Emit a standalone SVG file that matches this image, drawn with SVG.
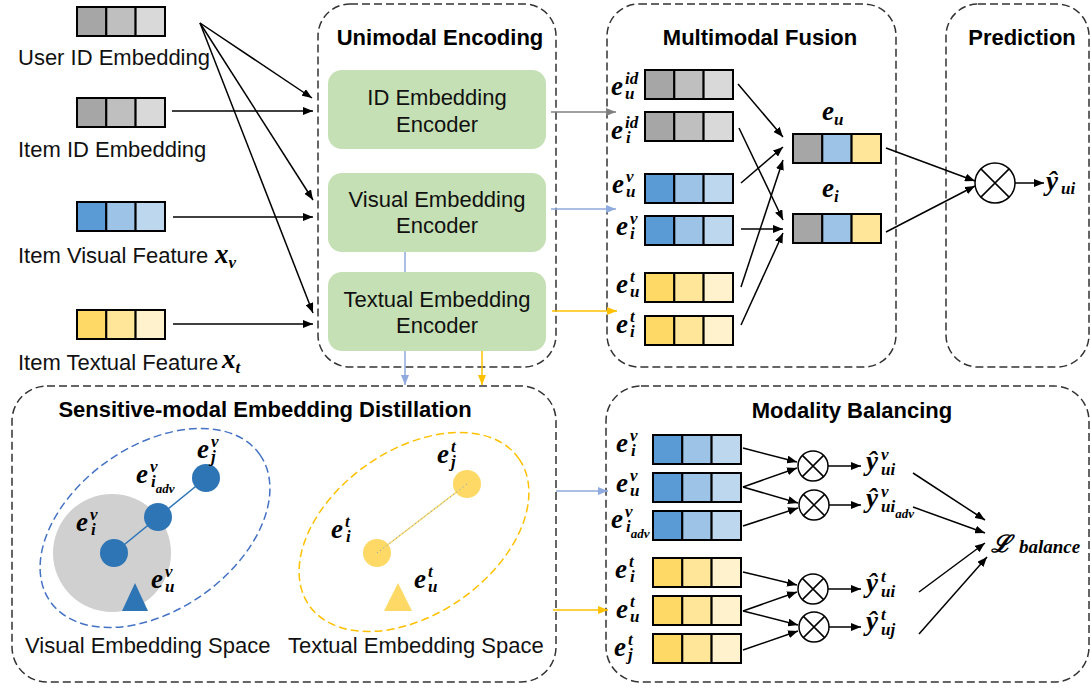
<svg xmlns="http://www.w3.org/2000/svg" xmlns:xlink="http://www.w3.org/1999/xlink" width="1091" height="688" viewBox="0 0 1091 688">
<style>
.box{fill:none;stroke:#333;stroke-width:1.5;stroke-dasharray:8 4}
.enc{fill:#c5e0b4}
.t{font-family:"Liberation Sans",Arial,sans-serif;font-size:22px;fill:#111}
.tb{font-family:"Liberation Sans",Arial,sans-serif;font-size:22px;font-weight:bold;fill:#000;text-anchor:middle}
.tc{font-family:"Liberation Sans",Arial,sans-serif;font-size:22px;fill:#111;text-anchor:middle}
.m{font-family:"Liberation Serif","DejaVu Serif",serif;font-weight:bold;font-style:italic;font-size:27px;fill:#000}
.s{font-size:17px}
.ss{font-size:13px}
.c{stroke:#000;stroke-width:2}
.k{stroke:#000;stroke-width:1.5;fill:none}
.ot{fill:#fff;stroke:#000;stroke-width:1.5}
.g1{fill:#a6a6a6}.g2{fill:#bfbfbf}.g3{fill:#d9d9d9}
.b1{fill:#5b9bd5}.b2{fill:#9dc3e6}.b3{fill:#bdd7ee}
.y1{fill:#ffd966}.y2{fill:#ffe699}.y3{fill:#fff2cc}
</style>
<defs>
<marker id="ak" markerWidth="10" markerHeight="8" refX="10" refY="4" orient="auto" markerUnits="userSpaceOnUse"><path d="M0,0 L10,4 L0,8 z" fill="#000"/></marker>
<marker id="ag" markerWidth="10" markerHeight="8" refX="10" refY="4" orient="auto" markerUnits="userSpaceOnUse"><path d="M0,0 L10,4 L0,8 z" fill="#808080"/></marker>
<marker id="ab" markerWidth="10" markerHeight="8" refX="10" refY="4" orient="auto" markerUnits="userSpaceOnUse"><path d="M0,0 L10,4 L0,8 z" fill="#8faadc"/></marker>
<marker id="ay" markerWidth="10" markerHeight="8" refX="10" refY="4" orient="auto" markerUnits="userSpaceOnUse"><path d="M0,0 L10,4 L0,8 z" fill="#ffc000"/></marker>
<g id="vg"><rect class="g1 c" x="0" y="0" width="29.3" height="29"/><rect class="g2 c" x="29.3" y="0" width="29.3" height="29"/><rect class="g3 c" x="58.6" y="0" width="29.4" height="29"/></g>
<g id="vb"><rect class="b1 c" x="0" y="0" width="29.3" height="29"/><rect class="b2 c" x="29.3" y="0" width="29.3" height="29"/><rect class="b3 c" x="58.6" y="0" width="29.4" height="29"/></g>
<g id="vy"><rect class="y1 c" x="0" y="0" width="29.3" height="29"/><rect class="y2 c" x="29.3" y="0" width="29.3" height="29"/><rect class="y3 c" x="58.6" y="0" width="29.4" height="29"/></g>
<g id="vf"><rect class="g1 c" x="0" y="0" width="29.3" height="29"/><rect class="b2 c" x="29.3" y="0" width="29.3" height="29"/><rect class="y2 c" x="58.6" y="0" width="29.4" height="29"/></g>
<g id="otl"><circle class="ot" cx="0" cy="0" r="20"/><path class="k" d="M-14.1,-14.1 L14.1,14.1 M-14.1,14.1 L14.1,-14.1"/></g>
<g id="ots"><circle class="ot" cx="0" cy="0" r="15"/><path class="k" d="M-10.6,-10.6 L10.6,10.6 M-10.6,10.6 L10.6,-10.6"/></g>
</defs>
<rect width="1091" height="688" fill="#fff"/>

<!-- container boxes -->
<g id="unimodal">
<rect class="box" x="318" y="4" width="238" height="363" rx="32"/>
<text class="tb" x="440" y="45">Unimodal Encoding</text>
</g>
<g id="fusion">
<rect class="box" x="607" y="4" width="289" height="363" rx="32"/>
<text class="tb" x="760" y="45">Multimodal Fusion</text>
</g>
<g id="prediction">
<rect class="box" x="946" y="4" width="143" height="363" rx="32"/>
<text class="tb" x="1022" y="45">Prediction</text>
</g>
<g id="sed">
<rect class="box" x="12" y="386" width="544" height="296" rx="35"/>
<text class="tb" x="265" y="417">Sensitive-modal Embedding Distillation</text>
</g>
<g id="balancing">
<rect class="box" x="606" y="386" width="483" height="296" rx="35"/>
<text class="tb" x="852" y="418">Modality Balancing</text>
</g>

<!-- connectors -->
<g id="connectors">
<line x1="200" y1="23" x2="312" y2="98" class="k" marker-end="url(#ak)"/>
<line x1="200" y1="23" x2="313" y2="200" class="k" marker-end="url(#ak)"/>
<line x1="200" y1="23" x2="313" y2="313" class="k" marker-end="url(#ak)"/>
<line x1="172" y1="111" x2="313" y2="111" class="k" marker-end="url(#ak)"/>
<line x1="173" y1="217" x2="313" y2="217" class="k" marker-end="url(#ak)"/>
<line x1="173" y1="324" x2="313" y2="324" class="k" marker-end="url(#ak)"/>
<line x1="551" y1="112" x2="616" y2="112" stroke="#808080" stroke-width="1.5" marker-end="url(#ag)"/>
<line x1="551" y1="209" x2="616" y2="209" stroke="#8faadc" stroke-width="1.5" marker-end="url(#ab)"/>
<line x1="552" y1="311" x2="617" y2="311" stroke="#ffc000" stroke-width="1.5" marker-end="url(#ay)"/>
<line x1="405" y1="252" x2="405" y2="385" stroke="#8faadc" stroke-width="1.5" marker-end="url(#ab)"/>
<line x1="482" y1="351" x2="482" y2="385" stroke="#ffc000" stroke-width="1.5" marker-end="url(#ay)"/>
<line x1="556" y1="491" x2="608" y2="491" stroke="#8faadc" stroke-width="1.5" marker-end="url(#ab)"/>
<line x1="553" y1="610" x2="608" y2="610" stroke="#ffc000" stroke-width="1.5" marker-end="url(#ay)"/>
<line x1="738" y1="84" x2="783" y2="137" class="k" marker-end="url(#ak)"/>
<line x1="739" y1="128" x2="783" y2="220" class="k" marker-end="url(#ak)"/>
<line x1="741" y1="183" x2="783" y2="147" class="k" marker-end="url(#ak)"/>
<line x1="741" y1="229" x2="783" y2="229" class="k" marker-end="url(#ak)"/>
<line x1="741" y1="287" x2="783" y2="160" class="k" marker-end="url(#ak)"/>
<line x1="741" y1="325" x2="783" y2="233" class="k" marker-end="url(#ak)"/>
<line x1="886" y1="148" x2="975" y2="181" class="k" marker-end="url(#ak)"/>
<line x1="886" y1="232" x2="975" y2="186" class="k" marker-end="url(#ak)"/>
<line x1="1015" y1="183" x2="1044" y2="183" class="k" marker-end="url(#ak)"/>
<line x1="743" y1="448" x2="797" y2="462" class="k" marker-end="url(#ak)"/>
<line x1="743" y1="487" x2="797" y2="468" class="k" marker-end="url(#ak)"/>
<line x1="743" y1="487" x2="798" y2="503" class="k" marker-end="url(#ak)"/>
<line x1="743" y1="526" x2="798" y2="508" class="k" marker-end="url(#ak)"/>
<line x1="743" y1="572" x2="797" y2="585" class="k" marker-end="url(#ak)"/>
<line x1="743" y1="611" x2="797" y2="592" class="k" marker-end="url(#ak)"/>
<line x1="743" y1="611" x2="798" y2="625" class="k" marker-end="url(#ak)"/>
<line x1="743" y1="650" x2="798" y2="631" class="k" marker-end="url(#ak)"/>
<line x1="828" y1="466" x2="861" y2="466" class="k" marker-end="url(#ak)"/>
<line x1="829" y1="505" x2="861" y2="505" class="k" marker-end="url(#ak)"/>
<line x1="828" y1="589" x2="861" y2="589" class="k" marker-end="url(#ak)"/>
<line x1="829" y1="627" x2="861" y2="627" class="k" marker-end="url(#ak)"/>
<line x1="913" y1="473" x2="985" y2="520" class="k" marker-end="url(#ak)"/>
<line x1="913" y1="507" x2="985" y2="533" class="k" marker-end="url(#ak)"/>
<line x1="919" y1="592" x2="985" y2="543" class="k" marker-end="url(#ak)"/>
<line x1="919" y1="634" x2="987" y2="557" class="k" marker-end="url(#ak)"/>
</g>

<!-- inputs -->
<g id="user-id">
<use href="#vg" x="77" y="7"/>
<text class="t" x="18" y="65">User ID Embedding</text>
</g>
<g id="item-id">
<use href="#vg" x="77" y="98"/>
<text class="t" x="18" y="157">Item ID Embedding</text>
</g>
<g id="item-visual">
<use href="#vb" x="77" y="202"/>
<text class="t" x="18" y="263">Item Visual Feature</text>
<text class="m" x="215" y="263">x<tspan class="s" dy="5">v</tspan></text>
</g>
<g id="item-textual">
<use href="#vy" x="77" y="310"/>
<text class="t" x="18" y="370">Item Textual Feature</text>
<text class="m" x="222" y="368">x<tspan class="s" dy="5">t</tspan></text>
</g>

<!-- encoders -->
<g id="id-encoder">
<rect class="enc" x="328" y="70" width="218" height="79" rx="14"/>
<text class="tc" x="437" y="105">ID Embedding</text>
<text class="tc" x="437" y="132">Encoder</text>
</g>
<g id="visual-encoder">
<rect class="enc" x="328" y="173" width="218" height="79" rx="14"/>
<text class="tc" x="437" y="207">Visual Embedding</text>
<text class="tc" x="437" y="233">Encoder</text>
</g>
<g id="textual-encoder">
<rect class="enc" x="328" y="272" width="218" height="79" rx="14"/>
<text class="tc" x="437" y="307">Textual Embedding</text>
<text class="tc" x="437" y="333">Encoder</text>
</g>

<!-- fusion vectors -->
<g id="f-eu-id"><use href="#vg" x="645" y="70"/><text class="m" x="611" y="95">e<tspan class="s" x="625" dy="-11">id</tspan><tspan class="s" x="625" dy="15">u</tspan></text></g>
<g id="f-ei-id"><use href="#vg" x="645" y="112"/><text class="m" x="611" y="139">e<tspan class="s" x="625" dy="-11">id</tspan><tspan class="s" x="626" dy="15">i</tspan></text></g>
<g id="f-eu-v"><use href="#vb" x="645" y="174"/><text class="m" x="612" y="193">e<tspan class="s" x="626" dy="-11">v</tspan><tspan class="s" x="626" dy="15">u</tspan></text></g>
<g id="f-ei-v"><use href="#vb" x="645" y="216"/><text class="m" x="616" y="235">e<tspan class="s" x="630" dy="-11">v</tspan><tspan class="s" x="630" dy="15">i</tspan></text></g>
<g id="f-eu-t"><use href="#vy" x="645" y="273"/><text class="m" x="616" y="293">e<tspan class="s" x="630" dy="-11">t</tspan><tspan class="s" x="630" dy="15">u</tspan></text></g>
<g id="f-ei-t"><use href="#vy" x="645" y="316"/><text class="m" x="616" y="333">e<tspan class="s" x="630" dy="-11">t</tspan><tspan class="s" x="630" dy="15">i</tspan></text></g>
<g id="f-eu"><use href="#vf" x="793" y="134"/><text class="m" x="822" y="120">e<tspan class="s" dy="5">u</tspan></text></g>
<g id="f-ei"><use href="#vf" x="793" y="214"/><text class="m" x="822" y="197">e<tspan class="s" dy="5">i</tspan></text></g>

<!-- prediction -->
<g id="pred-op"><use href="#otl" x="995" y="183"/></g>
<g id="pred-out"><text class="m" x="1046" y="190">ŷ<tspan class="s" x="1061" dy="4">ui</tspan></text></g>

<!-- SED visual space -->
<g id="visual-space">
<ellipse cx="155" cy="528" rx="128" ry="82" transform="rotate(-35 155 528)" fill="none" stroke="#4472c4" stroke-width="1.5" stroke-dasharray="8 4"/>
<circle cx="112" cy="553" r="59" fill="#d0d0d0"/>
<line x1="114" y1="553" x2="206" y2="478" stroke="#2e75b6" stroke-width="1.5"/>
<circle cx="114" cy="553" r="14" fill="#2e75b6"/>
<circle cx="158" cy="517" r="14" fill="#2e75b6"/>
<circle cx="206" cy="478" r="14" fill="#2e75b6"/>
<path d="M122,611 L148,611 L135,583 z" fill="#2e75b6"/>
<text class="m" x="197" y="458">e<tspan class="s" x="211" dy="-11">v</tspan><tspan class="s" x="211" dy="15">j</tspan></text>
<text class="m" x="136" y="483">e<tspan class="s" x="150" dy="-11">v</tspan><tspan class="s" x="151" dy="15">i</tspan><tspan class="ss" dy="6">adv</tspan></text>
<text class="m" x="76" y="531">e<tspan class="s" x="90" dy="-11">v</tspan><tspan class="s" x="91" dy="15">i</tspan></text>
<text class="m" x="151" y="588">e<tspan class="s" x="165" dy="-11">v</tspan><tspan class="s" x="165" dy="15">u</tspan></text>
<text class="t" x="25" y="653">Visual Embedding Space</text>
</g>

<!-- SED textual space -->
<g id="textual-space">
<ellipse cx="414" cy="532" rx="128" ry="82" transform="rotate(-35 414 532)" fill="none" stroke="#ffc000" stroke-width="1.5" stroke-dasharray="8 4"/>
<circle cx="377" cy="553" r="14" fill="#ffd966"/>
<circle cx="467" cy="484" r="14" fill="#ffd966"/>
<line x1="377" y1="553" x2="467" y2="484" stroke="#ffd966" stroke-width="1.5"/>
<line x1="377" y1="553" x2="467" y2="484" stroke="#5b9bd5" stroke-width="1" stroke-dasharray="1 3"/>
<path d="M384,611 L412,611 L398,583 z" fill="#ffd966"/>
<text class="m" x="437" y="463">e<tspan class="s" x="451" dy="-11">t</tspan><tspan class="s" x="451" dy="15">j</tspan></text>
<text class="m" x="331" y="538">e<tspan class="s" x="345" dy="-11">t</tspan><tspan class="s" x="346" dy="15">i</tspan></text>
<text class="m" x="414" y="588">e<tspan class="s" x="428" dy="-11">t</tspan><tspan class="s" x="428" dy="15">u</tspan></text>
<text class="t" x="288" y="653">Textual Embedding Space</text>
</g>

<!-- modality balancing -->
<g id="mb-ei-v"><use href="#vb" x="653" y="435"/><text class="m" x="616" y="452">e<tspan class="s" x="630" dy="-11">v</tspan><tspan class="s" x="631" dy="15">i</tspan></text></g>
<g id="mb-eu-v"><use href="#vb" x="653" y="473"/><text class="m" x="616" y="492">e<tspan class="s" x="630" dy="-11">v</tspan><tspan class="s" x="630" dy="15">u</tspan></text></g>
<g id="mb-eiadv-v"><use href="#vb" x="653" y="511"/><text class="m" x="611" y="528">e<tspan class="s" x="625" dy="-11">v</tspan><tspan class="s" x="626" dy="15">i</tspan><tspan class="ss" dy="6">adv</tspan></text></g>
<g id="mb-ei-t"><use href="#vy" x="653" y="558"/><text class="m" x="615" y="578">e<tspan class="s" x="629" dy="-11">t</tspan><tspan class="s" x="630" dy="15">i</tspan></text></g>
<g id="mb-eu-t"><use href="#vy" x="653" y="596"/><text class="m" x="616" y="618">e<tspan class="s" x="630" dy="-11">t</tspan><tspan class="s" x="630" dy="15">u</tspan></text></g>
<g id="mb-ej-t"><use href="#vy" x="653" y="634"/><text class="m" x="614" y="656">e<tspan class="s" x="628" dy="-11">t</tspan><tspan class="s" x="628" dy="15">j</tspan></text></g>
<g id="mb-op1"><use href="#ots" x="813" y="466"/></g>
<g id="mb-op2"><use href="#ots" x="814" y="505"/></g>
<g id="mb-op3"><use href="#ots" x="813" y="589"/></g>
<g id="mb-op4"><use href="#ots" x="814" y="627"/></g>
<g id="y-ui-v"><text class="m" x="866" y="470">ŷ<tspan class="s" x="881" dy="-10">v</tspan><tspan class="s" x="881" dy="15">ui</tspan></text></g>
<g id="y-uiadv-v"><text class="m" x="866" y="507">ŷ<tspan class="s" x="881" dy="-10">v</tspan><tspan class="s" x="881" dy="15">ui</tspan><tspan class="ss" dy="6">adv</tspan></text></g>
<g id="y-ui-t"><text class="m" x="866" y="592">ŷ<tspan class="s" x="881" dy="-10">t</tspan><tspan class="s" x="881" dy="15">ui</tspan></text></g>
<g id="y-uj-t"><text class="m" x="866" y="630">ŷ<tspan class="s" x="881" dy="-10">t</tspan><tspan class="s" x="881" dy="15">uj</tspan></text></g>
<g id="l-balance"><text class="m" x="991" y="552" style="font-size:24px">ℒ<tspan x="1019" dy="1" style="font-size:19px">balance</tspan></text></g>
</svg>
